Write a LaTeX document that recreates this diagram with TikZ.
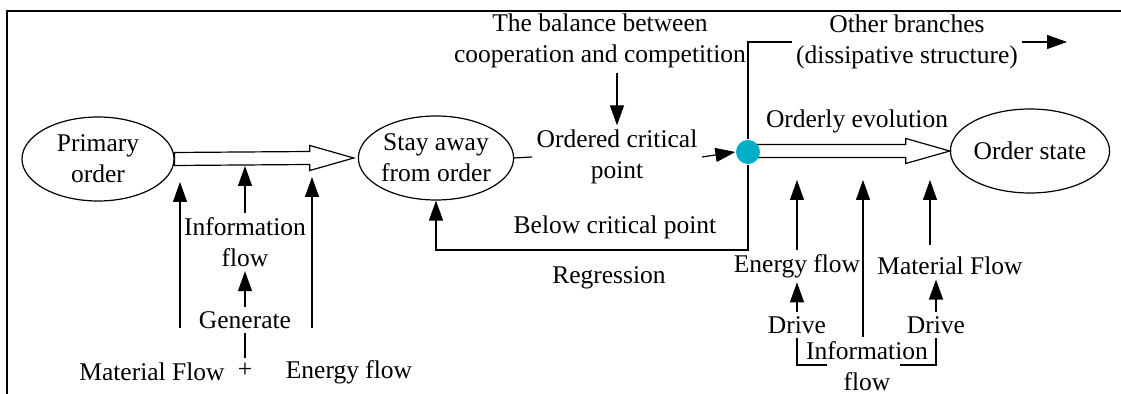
\documentclass[tikz,border=0pt]{standalone}
\usepackage{fontspec}
\setmainfont{Liberation Serif}
\usetikzlibrary{arrows.meta,calc,shapes.geometric}
\definecolor{dotcyan}{HTML}{00AFC6}
\tikzset{
  txt/.style={align=center, inner sep=2pt, font=\fontsize{12.75}{15.5}\selectfont},
  oval/.style={txt, draw, ellipse, inner sep=0pt, minimum width=76pt, minimum height=42pt},
  arr/.style={-{Triangle[length=10pt,width=7pt]}},
  hollow/.style={draw, fill=white, line join=miter}
}
\newcommand\hollowarrow[2]{%
  \draw[hollow] ($(#1)+(0,-6.5)$) -- ($(#2)+(-44,-6.5)$) -- ($(#2)+(-44,-12.5)$) -- (#2)
    -- ($(#2)+(-44,12.5)$) -- ($(#2)+(-44,6.5)$) -- ($(#1)+(0,6.5)$) -- cycle;}

\begin{document}
\begin{tikzpicture}[x=0.5pt, y=-0.5pt, line width=0.6pt]
  \useasboundingbox (0,0) rectangle (1121,394);
  \draw (7,394) -- (7,11) -- (1121,11);

  \node[oval] (po) at (98,159) {Primary\\order};
  \node[oval] (sa) at (436,158) {Stay away\\from order};
  \node[oval, minimum width=77pt] (os) at (1030,151) {Order state};
  \node[txt] (ocp) at (617,157) {Ordered critical\\point};
  \node[txt] (bal) at (600,41) {The balance between\\cooperation and competition};
  \node[txt] (ob) at (907,42) {Other branches\\(dissipative structure)};
  \node[txt] (oe) at (857,121) {Orderly evolution};
  \node[txt] (bcp) at (615,227) {Below critical point};
  \node[txt] (reg) at (609,278) {Regression};

  % left inputs
  \node[txt] (mf1) at (152,372) {Material Flow};
  \node[txt] (plus) at (245,370) {+};
  \node[txt] (ef1) at (349,372) {Energy flow};
  \node[txt] (gen) at (245,320) {Generate};
  \node[txt] (if1) at (245,242) {Information\\flow};

  % right inputs
  \node[txt] (ef2) at (797,266) {Energy flow};
  \node[txt] (mf2) at (950,266) {Material Flow};
  \node[txt] (dr1) at (797,325) {Drive};
  \node[txt] (dr2) at (936,325) {Drive};
  \node[txt] (if2) at (867,366) {Information\\flow};

  \coordinate (a1end) at ($(sa.west)+(-4,0)$);
  \coordinate (obend) at (1067,42);
  \coordinate (low) at (748,250);
  \coordinate (mfs) at (180,328);
  \coordinate (mft) at (180,182);
  \coordinate (efs) at (312,328);
  \coordinate (eft) at (312,177);
  \coordinate (ift) at (245,166);
  \coordinate (ef2t) at (797,180);
  \coordinate (if2t) at (863,180);
  \coordinate (mf2s) at (930,245);
  \coordinate (mf2t) at (930,180);
  \coordinate (brl) at (827,365);
  \coordinate (brr) at (900,365);

  \hollowarrow{po.east}{a1end}
  \hollowarrow{748,151}{os.west}
  \node[circle, fill=dotcyan, inner sep=0pt, minimum size=12pt] (dot) at (748,152) {};

  \draw (sa.east) -- (ocp.west);
  \draw[arr] (ocp.east) -- (dot.west);
  \draw[arr] (ocp.north |- bal.south) -- (ocp.north);
  \draw (dot.north) |- (ob.west);
  \draw[arr] (ob.east) -- (obend);
  \draw[arr] (dot.south) -- (low) -| (sa.south);

  \draw[arr] (mfs) -- (mft);
  \draw[arr] (efs) -- (eft);
  \draw[arr] (if1.north) -- (ift);
  \draw[arr] (gen.north) -- (if1.south);
  \draw (plus.north) -- (gen.south);

  \draw[arr] (ef2.north) -- (ef2t);
  \draw[arr] (dr1.north) -- (ef2.south);
  \draw[arr] (mf2s) -- (mf2t);
  \draw[arr] (dr2.north) -- (dr2.north |- mf2.south);
  \draw[arr] (if2.north -| if2t) -- (if2t);
  \draw (dr1.south) |- (brl);
  \draw (dr2.south) |- (brr);
\end{tikzpicture}
\end{document}
